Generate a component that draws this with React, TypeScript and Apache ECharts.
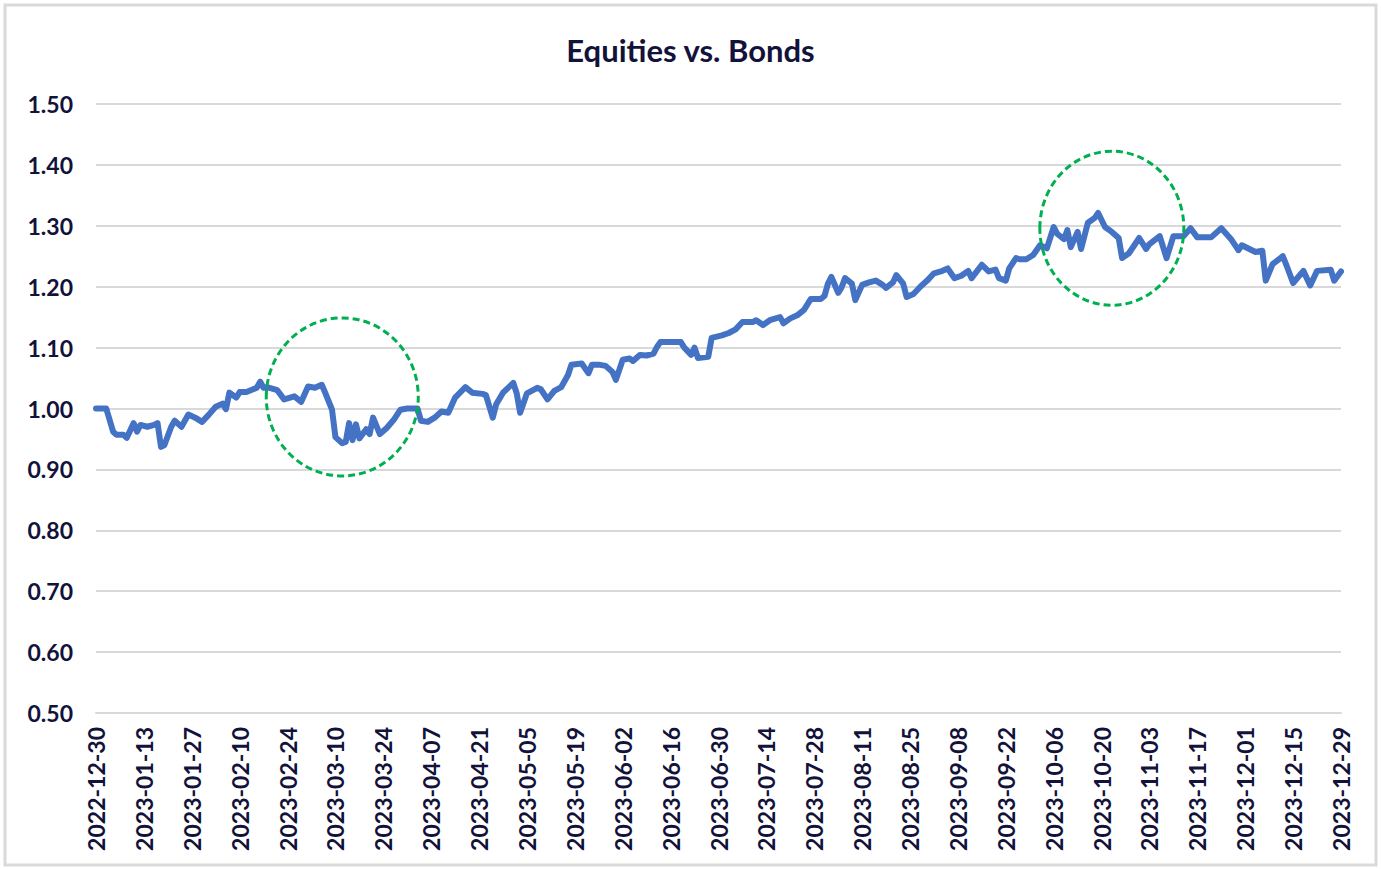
import React, { useEffect, useRef } from "react";
import * as echarts from "echarts";

const TITLE = "Equities vs. Bonds";
const START_DATE = "2022-12-30";
const END_DATE = "2023-12-29";

const pointDates: string[] = [
  "2022-12-30", "2023-01-02", "2023-01-04", "2023-01-05", "2023-01-07", "2023-01-08", "2023-01-10", "2023-01-11",
  "2023-01-12", "2023-01-14", "2023-01-16", "2023-01-17", "2023-01-18", "2023-01-19", "2023-01-21", "2023-01-22",
  "2023-01-24", "2023-01-26", "2023-01-28", "2023-01-30", "2023-02-01", "2023-02-03", "2023-02-05", "2023-02-06",
  "2023-02-07", "2023-02-09", "2023-02-10", "2023-02-12", "2023-02-15", "2023-02-16", "2023-02-17", "2023-02-18",
  "2023-02-21", "2023-02-23", "2023-02-26", "2023-02-28", "2023-03-02", "2023-03-04", "2023-03-06", "2023-03-07",
  "2023-03-09", "2023-03-10", "2023-03-12", "2023-03-13", "2023-03-14", "2023-03-15", "2023-03-16", "2023-03-17",
  "2023-03-19", "2023-03-20", "2023-03-21", "2023-03-23", "2023-03-25", "2023-03-27", "2023-03-29", "2023-03-31",
  "2023-04-03", "2023-04-04", "2023-04-06", "2023-04-08", "2023-04-10", "2023-04-12", "2023-04-14", "2023-04-17",
  "2023-04-19", "2023-04-22", "2023-04-23", "2023-04-25", "2023-04-26", "2023-04-28", "2023-05-01", "2023-05-02",
  "2023-05-03", "2023-05-05", "2023-05-08", "2023-05-09", "2023-05-11", "2023-05-13", "2023-05-15", "2023-05-17",
  "2023-05-18", "2023-05-21", "2023-05-23", "2023-05-24", "2023-05-26", "2023-05-28", "2023-05-30", "2023-05-31",
  "2023-06-02", "2023-06-04", "2023-06-05", "2023-06-07", "2023-06-09", "2023-06-11", "2023-06-12", "2023-06-13",
  "2023-06-16", "2023-06-19", "2023-06-20", "2023-06-22", "2023-06-23", "2023-06-24", "2023-06-27", "2023-06-28",
  "2023-07-01", "2023-07-03", "2023-07-05", "2023-07-07", "2023-07-10", "2023-07-11", "2023-07-13", "2023-07-15",
  "2023-07-18", "2023-07-19", "2023-07-21", "2023-07-23", "2023-07-25", "2023-07-27", "2023-07-30", "2023-07-31",
  "2023-08-01", "2023-08-02", "2023-08-04", "2023-08-05", "2023-08-06", "2023-08-08", "2023-08-09", "2023-08-11",
  "2023-08-13", "2023-08-15", "2023-08-17", "2023-08-18", "2023-08-20", "2023-08-21", "2023-08-23", "2023-08-24",
  "2023-08-26", "2023-08-28", "2023-08-30", "2023-09-01", "2023-09-03", "2023-09-05", "2023-09-07", "2023-09-09",
  "2023-09-11", "2023-09-12", "2023-09-15", "2023-09-17", "2023-09-19", "2023-09-20", "2023-09-22", "2023-09-23",
  "2023-09-25", "2023-09-26", "2023-09-28", "2023-09-30", "2023-10-02", "2023-10-04", "2023-10-06", "2023-10-07",
  "2023-10-09", "2023-10-10", "2023-10-11", "2023-10-13", "2023-10-14", "2023-10-16", "2023-10-18", "2023-10-19",
  "2023-10-21", "2023-10-23", "2023-10-25", "2023-10-26", "2023-10-28", "2023-10-31", "2023-11-02", "2023-11-03",
  "2023-11-06", "2023-11-08", "2023-11-10", "2023-11-13", "2023-11-15", "2023-11-17", "2023-11-21", "2023-11-24",
  "2023-11-27", "2023-11-29", "2023-11-30", "2023-12-04", "2023-12-06", "2023-12-07", "2023-12-09", "2023-12-12",
  "2023-12-13", "2023-12-15", "2023-12-18", "2023-12-20", "2023-12-22", "2023-12-26", "2023-12-27", "2023-12-29",
];

const pointValues: number[] = [
  1.0, 1.0, 0.962, 0.957, 0.957, 0.952, 0.976, 0.962,
  0.973, 0.97, 0.973, 0.976, 0.937, 0.94, 0.97, 0.98,
  0.97, 0.99, 0.985, 0.978, 0.99, 1.003, 1.008, 0.999,
  1.026, 1.018, 1.027, 1.027, 1.034, 1.044, 1.034, 1.035,
  1.03, 1.015, 1.02, 1.011, 1.036, 1.034, 1.039, 1.026,
  0.998, 0.953, 0.943, 0.945, 0.976, 0.948, 0.974, 0.951,
  0.966, 0.958, 0.985, 0.958, 0.968, 0.981, 0.998, 1.0,
  1.0, 0.98, 0.978, 0.985, 0.995, 0.993, 1.018, 1.035,
  1.026, 1.024, 1.022, 0.985, 1.007, 1.026, 1.042, 1.025,
  0.993, 1.025, 1.034, 1.032, 1.015, 1.029, 1.035, 1.055,
  1.072, 1.074, 1.058, 1.072, 1.072, 1.07, 1.06, 1.047,
  1.08, 1.082, 1.078, 1.088, 1.087, 1.09, 1.101, 1.109,
  1.109, 1.109, 1.1, 1.088, 1.1, 1.083, 1.085, 1.116,
  1.12, 1.124, 1.13, 1.142, 1.142, 1.145, 1.137, 1.145,
  1.15, 1.14, 1.148, 1.153, 1.162, 1.18, 1.18, 1.185,
  1.205, 1.216, 1.19, 1.199, 1.214, 1.205, 1.178, 1.203,
  1.207, 1.21, 1.203, 1.198, 1.207, 1.219, 1.205, 1.183,
  1.188, 1.2, 1.21, 1.222, 1.225, 1.23, 1.214, 1.218,
  1.226, 1.214, 1.236, 1.225, 1.228, 1.214, 1.21, 1.23,
  1.247, 1.245, 1.245, 1.252, 1.268, 1.263, 1.298, 1.287,
  1.278, 1.293, 1.265, 1.29, 1.262, 1.305, 1.313, 1.321,
  1.298, 1.29, 1.28, 1.247, 1.255, 1.28, 1.262, 1.27,
  1.283, 1.247, 1.283, 1.283, 1.296, 1.281, 1.281, 1.296,
  1.277, 1.26, 1.268, 1.257, 1.259, 1.21, 1.237, 1.25,
  1.236, 1.206, 1.226, 1.202, 1.226, 1.228, 1.21, 1.225,
];

// Highlight annotations (centre in data coordinates)
const highlightCenters: [string, number][] = [
  ["2023-03-12", 1.019],
  ["2023-10-23", 1.296],
];
const highlightRadii: [number, number][] = [
  [76, 79],
  [72, 77],
];

const Y_MIN = 0.5;
const Y_MAX = 1.5;
const Y_STEP = 0.1;

function buildDates(start: string, end: string): string[] {
  const out: string[] = [];
  const d = new Date(start + "T00:00:00Z");
  const e = new Date(end + "T00:00:00Z");
  while (d.getTime() <= e.getTime()) {
    out.push(d.toISOString().slice(0, 10));
    d.setUTCDate(d.getUTCDate() + 1);
  }
  return out;
}

const TEXT = "#12123a";
const FONT = "Lato, 'Noto Sans', sans-serif";

export default function App() {
  const ref = useRef<HTMLDivElement>(null);

  useEffect(() => {
    if (!ref.current) return;
    const chart = echarts.init(ref.current, undefined, { renderer: "svg" });
    const allDates = buildDates(START_DATE, END_DATE);
    const seriesData = pointDates.map((d, i) => [d, pointValues[i]]);

    chart.setOption({
      animation: false,
      backgroundColor: "#ffffff",
      title: {
        text: TITLE,
        left: "center",
        top: 29,
        textStyle: { fontFamily: FONT, fontWeight: "bold", fontSize: 31, color: TEXT },
      },
      grid: { left: 96, right: 40, top: 104, bottom: 156, containLabel: false },
      xAxis: {
        type: "category",
        data: allDates,
        boundaryGap: false,
        axisLine: { show: true, lineStyle: { color: "#d9d9d9", width: 2 } },
        axisTick: { show: false },
        splitLine: { show: false },
        axisLabel: {
          interval: 13,
          rotate: 90,
          margin: 14,
          fontFamily: FONT,
          fontWeight: "bold",
          fontSize: 23,
          color: TEXT,
        },
      },
      yAxis: {
        type: "value",
        min: Y_MIN,
        max: Y_MAX,
        interval: Y_STEP,
        axisLine: { show: false },
        axisTick: { show: false },
        splitLine: { lineStyle: { color: "#d9d9d9", width: 2 } },
        axisLabel: {
          margin: 23,
          fontFamily: FONT,
          fontWeight: "bold",
          fontSize: 23,
          color: TEXT,
          formatter: (v: number) => v.toFixed(2),
        },
      },
      series: [
        {
          type: "line",
          data: seriesData,
          showSymbol: false,
          smooth: false,
          lineStyle: { color: "#4472C4", width: 6, join: "round", cap: "round" },
          itemStyle: { color: "#4472C4" },
        },
      ],
    });

    const ellipses = highlightCenters.map(([d, v], i) => {
      const p = chart.convertToPixel({ xAxisIndex: 0, yAxisIndex: 0 }, [allDates.indexOf(d), v]) as number[];
      return {
        type: "ellipse",
        shape: { cx: p[0], cy: p[1], rx: highlightRadii[i][0], ry: highlightRadii[i][1] },
        style: { fill: "none", stroke: "#00B050", lineWidth: 3, lineDash: [7, 4] },
        z: 10,
      };
    });

    chart.setOption({
      graphic: [
        {
          type: "rect",
          shape: { x: 5, y: 5, width: 1371, height: 860 },
          style: { fill: "none", stroke: "#d9d9d9", lineWidth: 3 },
          z: 0,
        },
        ...ellipses,
      ],
    });

    return () => chart.dispose();
  }, []);

  return (
    <div
      ref={ref}
      style={{ position: "absolute", left: 0, top: 0, width: 1381, height: 869 }}
    />
  );
}
